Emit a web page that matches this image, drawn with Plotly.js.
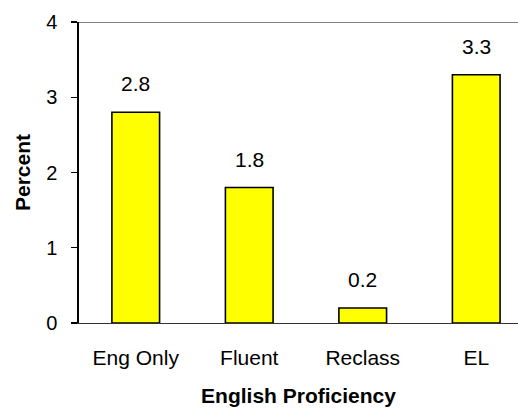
<!DOCTYPE html>
<html>
<head>
<meta charset="utf-8">
<script src="https://cdn.plot.ly/plotly-3.0.1.min.js"></script>
<style>html,body{margin:0;padding:0;background:#fff;}#chart{width:518px;height:408px;}</style>
</head>
<body>
<div id="chart"></div>
<script>
const categories = ["Eng Only", "Fluent", "Reclass", "EL"];
const percentValues = [2.8, 1.8, 0.2, 3.3];
const valueLabels = ["2.8", "1.8", "0.2", "3.3"];
const yTickValues = [0, 1, 2, 3, 4];

const FONT = "Liberation Sans, Arial, sans-serif";

const trace = {
  type: "bar",
  x: categories,
  y: percentValues,
  width: 0.42,
  marker: { color: "#ffff00", line: { color: "#000000", width: 1.6 } },
  hoverinfo: "skip"
};

const annotations = categories.map((c, i) => ({
  x: c, y: percentValues[i], xref: "x", yref: "y",
  text: valueLabels[i], showarrow: false,
  yanchor: "bottom", yshift: 15,
  font: { family: FONT, size: 21, color: "#000" }
}));

const layout = {
  width: 518, height: 408,
  margin: { l: 79, r: 0, t: 22, b: 85 },
  paper_bgcolor: "#fff", plot_bgcolor: "#fff",
  showlegend: false,
  xaxis: {
    type: "category",
    range: [-0.5, 3.368],
    showgrid: false, zeroline: false,
    showline: true, linecolor: "#333", linewidth: 1,
    ticks: "", ticklabelstandoff: 16,
    tickfont: { family: FONT, size: 21, color: "#000" },
    title: { text: "English Proficiency", standoff: 20, font: { family: FONT, size: 21, color: "#000", weight: "bold" } },
    fixedrange: true
  },
  yaxis: {
    range: [0, 4],
    tickvals: yTickValues,
    showgrid: false, zeroline: false,
    showline: true, linecolor: "#000", linewidth: 1.6,
    ticks: "outside", ticklen: 6, tickwidth: 1.4, tickcolor: "#000",
    ticklabelstandoff: 10,
    tickfont: { family: FONT, size: 20, color: "#000" },
    title: { text: "Percent", standoff: 10, font: { family: FONT, size: 21, color: "#000", weight: "bold" } },
    fixedrange: true
  },
  shapes: [{
    type: "line", xref: "paper", yref: "y",
    x0: 0, x1: 1, y0: 4, y1: 4,
    line: { color: "#808080", width: 2 }
  }],
  annotations: annotations
};

Plotly.newPlot("chart", [trace], layout, { displayModeBar: false, staticPlot: true });
</script>
</body>
</html>
